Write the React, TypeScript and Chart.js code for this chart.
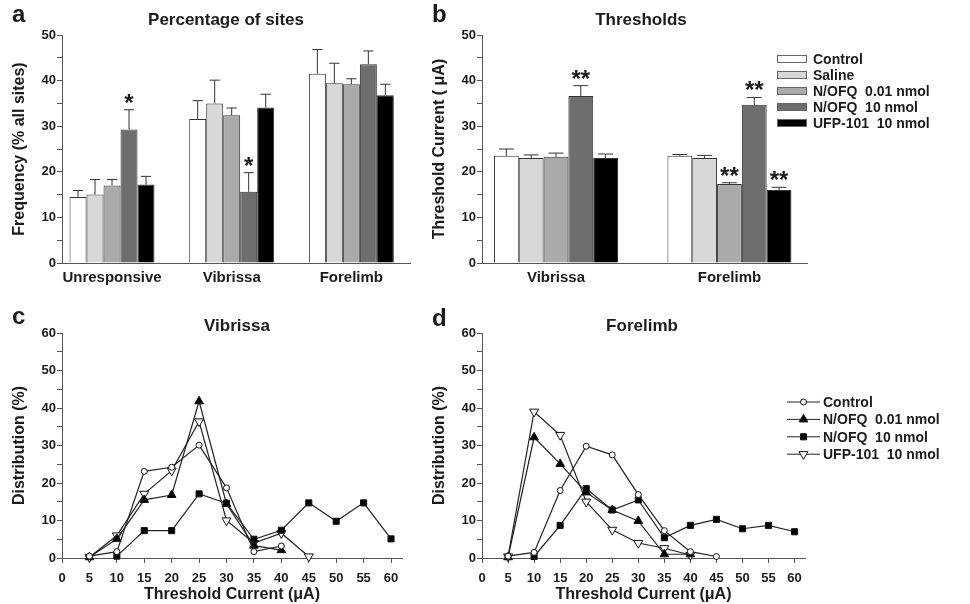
import React, { useEffect, useRef } from 'react';
import { Chart, registerables } from 'chart.js';

Chart.register(...registerables);

const FONT = 'Arial, "Liberation Sans", Helvetica, sans-serif';
const INK = '#1b1b1b';
const AXIS = '#555555';

// ---------- panel a : percentage of sites ----------
const siteCategories = ['Unresponsive', 'Vibrissa', 'Forelimb'];
const siteControl = [14.5, 31.6, 41.5];
const siteSaline = [15.0, 35.0, 39.4];
const siteNofqLow = [17.0, 32.4, 39.2];
const siteNofqHigh = [29.3, 15.6, 43.6];
const siteUfp = [17.2, 34.1, 36.8];
const siteControlSem = [1.4, 4.0, 5.3];
const siteSalineSem = [3.3, 5.1, 4.4];
const siteNofqLowSem = [1.3, 1.6, 1.2];
const siteNofqHighSem = [4.3, 4.2, 2.9];
const siteUfpSem = [1.8, 2.9, 2.4];
const siteNofqHighStars = ['*', '*', ''];

// ---------- panel b : thresholds ----------
const thresholdCategories = ['Vibrissa', 'Forelimb'];
const thrControl = [23.5, 23.5];
const thrSaline = [23.0, 23.0];
const thrNofqLow = [23.3, 17.3];
const thrNofqHigh = [36.6, 34.7];
const thrUfp = [23.0, 16.0];
const thrControlSem = [1.5, 0.3];
const thrSalineSem = [0.7, 0.6];
const thrNofqLowSem = [0.8, 0.3];
const thrNofqHighSem = [2.3, 1.6];
const thrUfpSem = [0.9, 0.6];
const thrNofqLowStars = ['', '**'];
const thrNofqHighStars = ['**', '**'];
const thrUfpStars = ['', '**'];

const barTreatments = ['Control', 'Saline', 'N/OFQ  0.01 nmol', 'N/OFQ  10 nmol', 'UFP-101  10 nmol'];
const barFills = ['#ffffff', '#d8d8d8', '#aaaaaa', '#6e6e6e', '#000000'];

// ---------- panels c, d : distributions ----------
const currents = [5, 10, 15, 20, 25, 30, 35, 40, 45, 50, 55, 60];
const currentTicks = [0, 5, 10, 15, 20, 25, 30, 35, 40, 45, 50, 55, 60];
const vibControl = [0.5, 1.7, 23.1, 24.2, 30.1, 18.7, 1.7, 3.2, null, null, null, null];
const vibNofqLow = [0.2, 5.1, 15.5, 16.8, 41.8, 14.4, 3.3, 2.1, null, null, null, null];
const vibNofqHigh = [null, 0.5, 7.3, 7.3, 17.1, 14.6, 5.0, 7.4, 14.7, 9.8, 14.7, 5.1];
const vibUfp = [0.2, 6.0, 17.1, 23.3, 36.4, 10.0, 4.0, 6.6, 0.4, null, null, null];
const foreControl = [0.5, 1.5, 18.0, 29.8, 27.5, 16.9, 7.3, 1.7, 0.4, null, null, null];
const foreNofqLow = [0.2, 32.2, 25.1, 17.5, 12.8, 9.9, 1.0, 1.0, null, null, null, null];
const foreNofqHigh = [null, 0.4, 8.7, 18.5, 12.8, 15.5, 5.4, 8.7, 10.3, 7.8, 8.7, 7.0];
const foreUfp = [0.4, 39.0, 32.8, 15.0, 7.5, 4.0, 2.6, 0.8, null, null, null, null];

const lineTreatments = ['Control', 'N/OFQ  0.01 nmol', 'N/OFQ  10 nmol', 'UFP-101  10 nmol'];

type TextItem = { text: string; x: number; y: number; size: number; align?: CanvasTextAlign };

function textPlugin(items: TextItem[]) {
  return {
    id: 'panelText',
    afterDraw(chart: any) {
      const ctx = chart.ctx;
      ctx.save();
      ctx.fillStyle = INK;
      ctx.textBaseline = 'alphabetic';
      for (const t of items) {
        ctx.font = `bold ${t.size}px ${FONT}`;
        ctx.textAlign = t.align || 'left';
        ctx.fillText(t.text, t.x, t.y);
      }
      ctx.restore();
    },
  };
}

const errorBarPlugin = {
  id: 'errorBars',
  afterDatasetsDraw(chart: any) {
    const ctx = chart.ctx;
    const yScale = chart.scales.y;
    ctx.save();
    chart.data.datasets.forEach((ds: any, di: number) => {
      const meta = chart.getDatasetMeta(di);
      meta.data.forEach((bar: any, i: number) => {
        const v = ds.data[i].y;
        const e = ds.sems[i];
        const top = yScale.getPixelForValue(v + e);
        const half = bar.width * 0.3;
        ctx.strokeStyle = '#333';
        ctx.lineWidth = 1;
        ctx.beginPath();
        ctx.moveTo(bar.x, bar.y);
        ctx.lineTo(bar.x, top);
        ctx.moveTo(bar.x - half, top);
        ctx.lineTo(bar.x + half, top);
        ctx.stroke();
        const s = ds.stars ? ds.stars[i] : '';
        if (s) {
          ctx.fillStyle = INK;
          ctx.font = `bold 24px ${FONT}`;
          ctx.textAlign = 'center';
          ctx.textBaseline = 'alphabetic';
          ctx.fillText(s, bar.x, top + 1);
        }
      });
    });
    ctx.restore();
  },
};

function barLegendPlugin(x: number, y0: number, step: number) {
  return {
    id: 'barLegend',
    afterDraw(chart: any) {
      const ctx = chart.ctx;
      ctx.save();
      chart.data.datasets.forEach((ds: any, i: number) => {
        const y = y0 + i * step;
        ctx.fillStyle = ds.backgroundColor;
        ctx.fillRect(x, y - 4, 30, 8);
        ctx.strokeStyle = '#666';
        ctx.lineWidth = 1;
        ctx.strokeRect(x + 0.5, y - 3.5, 29, 7);
        ctx.fillStyle = INK;
        ctx.font = `bold 14px ${FONT}`;
        ctx.textAlign = 'left';
        ctx.textBaseline = 'middle';
        ctx.fillText(ds.label, x + 36, y + 1);
      });
      ctx.restore();
    },
  };
}

function drawMarker(ctx: CanvasRenderingContext2D, ds: any, x: number, y: number) {
  const r = ds.pointRadius;
  ctx.beginPath();
  if (ds.pointStyle === 'circle') {
    ctx.arc(x, y, r, 0, Math.PI * 2);
  } else if (ds.pointStyle === 'rect') {
    const s = r * Math.SQRT1_2;
    ctx.rect(x - s, y - s, 2 * s, 2 * s);
  } else {
    const flip = ds.pointRotation === 180 ? -1 : 1;
    ctx.moveTo(x, y - flip * r);
    ctx.lineTo(x + 0.866 * r, y + flip * 0.5 * r);
    ctx.lineTo(x - 0.866 * r, y + flip * 0.5 * r);
    ctx.closePath();
  }
  ctx.fillStyle = ds.pointBackgroundColor;
  ctx.fill();
  ctx.strokeStyle = ds.pointBorderColor;
  ctx.lineWidth = 1;
  ctx.stroke();
}

function lineLegendPlugin(x: number, y0: number, step: number) {
  return {
    id: 'lineLegend',
    afterDraw(chart: any) {
      const ctx = chart.ctx;
      ctx.save();
      chart.data.datasets.forEach((ds: any, i: number) => {
        const y = y0 + i * step;
        ctx.strokeStyle = '#222';
        ctx.lineWidth = 1;
        ctx.beginPath();
        ctx.moveTo(x, y);
        ctx.lineTo(x + 33, y);
        ctx.stroke();
        drawMarker(ctx, ds, x + 16.5, y);
        ctx.fillStyle = INK;
        ctx.font = `bold 14px ${FONT}`;
        ctx.textAlign = 'left';
        ctx.textBaseline = 'middle';
        ctx.fillText(ds.label, x + 36, y + 1);
      });
      ctx.restore();
    },
  };
}

function barDataset(label: string, values: number[], sems: number[], stars: string[] | null, fill: string) {
  return {
    label,
    data: values.map((v, i) => ({ x: i, y: v })),
    sems,
    stars,
    backgroundColor: fill,
    borderColor: '#333',
    borderWidth: 1,
    barPercentage: 1,
  };
}

function yAxis(title: string, max: number, width: number) {
  return {
    min: 0,
    max,
    afterFit: (s: any) => { s.width = width; },
    ticks: {
      stepSize: 5,
      autoSkip: false,
      padding: 1,
      color: INK,
      font: { family: FONT, size: 13, weight: 'bold' },
      callback: (v: any) => (Number(v) % 10 === 0 ? String(v) : ''),
    },
    grid: { display: true, drawOnChartArea: false, drawTicks: true, tickLength: 5, color: AXIS },
    border: { display: true, color: AXIS, width: 1 },
    title: {
      display: true,
      text: title,
      color: INK,
      font: { family: FONT, size: 16, weight: 'bold' },
      padding: { top: 10, bottom: 0 },
    },
  };
}

function barConfig(p: {
  categories: string[];
  datasets: any[];
  xMin: number;
  xMax: number;
  catPct: number;
  yTitle: string;
  padRight: number;
  xHeight: number;
  plugins: any[];
}) {
  return {
    type: 'bar',
    data: { datasets: p.datasets },
    options: {
      responsive: false,
      animation: false,
      devicePixelRatio: 1,
      layout: { padding: { left: 0, top: 35, right: p.padRight, bottom: 0 } },
      datasets: { bar: { categoryPercentage: p.catPct, barPercentage: 1 } },
      plugins: { legend: { display: false }, tooltip: { enabled: false }, title: { display: false } },
      scales: {
        x: {
          type: 'linear',
          bounds: 'data',
          offset: false,
          min: p.xMin,
          max: p.xMax,
          afterBuildTicks: (s: any) => { s.ticks = p.categories.map((_, i) => ({ value: i })); },
          afterFit: (s: any) => { s.height = p.xHeight; },
          ticks: {
            autoSkip: false,
            maxRotation: 0,
            padding: -2,
            color: INK,
            font: { family: FONT, size: 15, weight: 'bold' },
            callback: (v: any) => p.categories[Math.round(Number(v))] ?? '',
          },
          grid: { display: false, offset: false },
          border: { display: true, color: AXIS, width: 1 },
        },
        y: yAxis(p.yTitle, 50, 62),
      },
    },
    plugins: [errorBarPlugin, ...p.plugins],
  };
}

function lineDataset(label: string, values: (number | null)[], style: string, radius: number, fill: string, rotation = 0) {
  const pts: { x: number; y: number }[] = [];
  values.forEach((v, i) => { if (v !== null) pts.push({ x: currents[i], y: v }); });
  return {
    label,
    data: pts,
    borderColor: '#222',
    borderWidth: 1.2,
    tension: 0,
    fill: false,
    clip: false,
    pointStyle: style,
    pointRadius: radius,
    pointRotation: rotation,
    pointBackgroundColor: fill,
    pointBorderColor: '#111',
    pointBorderWidth: 1,
  };
}

function lineConfig(p: { series: (number | null)[][]; padRight: number; plugins: any[] }) {
  const datasets = [
    lineDataset(lineTreatments[0], p.series[0], 'circle', 3, '#ffffff'),
    lineDataset(lineTreatments[1], p.series[1], 'triangle', 5, '#000000'),
    lineDataset(lineTreatments[2], p.series[2], 'rect', 4.3, '#000000'),
    lineDataset(lineTreatments[3], p.series[3], 'triangle', 5.2, '#ffffff', 180),
  ];
  return {
    type: 'line',
    data: { datasets },
    options: {
      responsive: false,
      animation: false,
      devicePixelRatio: 1,
      layout: { padding: { left: 0, top: 43, right: p.padRight, bottom: 0 } },
      plugins: { legend: { display: false }, tooltip: { enabled: false }, title: { display: false } },
      scales: {
        x: {
          type: 'linear',
          bounds: 'data',
          min: 0,
          max: 62,
          afterBuildTicks: (s: any) => { s.ticks = currentTicks.map((v) => ({ value: v })); },
          afterFit: (s: any) => { s.height = 46; },
          ticks: {
            autoSkip: false,
            maxRotation: 0,
            padding: 8,
            color: INK,
            font: { family: FONT, size: 13, weight: 'bold' },
          },
          grid: { display: true, drawOnChartArea: false, drawTicks: true, tickLength: 5, color: AXIS },
          border: { display: true, color: AXIS, width: 1 },
          title: {
            display: true,
            text: 'Threshold Current (\u03bcA)',
            color: INK,
            font: { family: FONT, size: 16, weight: 'bold' },
            padding: { top: 0, bottom: 0 },
          },
        },
        y: { ...yAxis('Distribution (%)', 60, 62), max: 60 },
      },
    },
    plugins: p.plugins,
  };
}

function ChartBox({ left, top, width, height, make }: { left: number; top: number; width: number; height: number; make: () => any }) {
  const ref = useRef<HTMLCanvasElement>(null);
  useEffect(() => {
    const chart = new Chart(ref.current as HTMLCanvasElement, make());
    return () => chart.destroy();
  }, []);
  return (
    <div style={{ position: 'absolute', left, top, width, height }}>
      <canvas ref={ref} width={width} height={height} style={{ display: 'block', width, height }} />
    </div>
  );
}

export default function App() {
  const makeA = () =>
    barConfig({
      categories: siteCategories,
      datasets: [
        barDataset(barTreatments[0], siteControl, siteControlSem, null, barFills[0]),
        barDataset(barTreatments[1], siteSaline, siteSalineSem, null, barFills[1]),
        barDataset(barTreatments[2], siteNofqLow, siteNofqLowSem, null, barFills[2]),
        barDataset(barTreatments[3], siteNofqHigh, siteNofqHighSem, siteNofqHighStars, barFills[3]),
        barDataset(barTreatments[4], siteUfp, siteUfpSem, null, barFills[4]),
      ],
      xMin: -0.418,
      xMax: 2.49,
      catPct: 0.71,
      yTitle: 'Frequency (% all sites)',
      padRight: 10,
      xHeight: 27,
      plugins: [
        textPlugin([
          { text: 'a', x: 12, y: 22, size: 24 },
          { text: 'Percentage of sites', x: 226, y: 25, size: 17, align: 'center' },
        ]),
      ],
    });

  const makeB = () =>
    barConfig({
      categories: thresholdCategories,
      datasets: [
        barDataset(barTreatments[0], thrControl, thrControlSem, null, barFills[0]),
        barDataset(barTreatments[1], thrSaline, thrSalineSem, null, barFills[1]),
        barDataset(barTreatments[2], thrNofqLow, thrNofqLowSem, thrNofqLowStars, barFills[2]),
        barDataset(barTreatments[3], thrNofqHigh, thrNofqHighSem, thrNofqHighStars, barFills[3]),
        barDataset(barTreatments[4], thrUfp, thrUfpSem, thrUfpStars, barFills[4]),
      ],
      xMin: -0.4265,
      xMax: 1.447,
      catPct: 0.715,
      yTitle: 'Threshold Current ( \u03bcA)',
      padRight: 163,
      xHeight: 27,
      plugins: [
        textPlugin([
          { text: 'b', x: 12, y: 22, size: 24 },
          { text: 'Thresholds', x: 221, y: 25, size: 17, align: 'center' },
        ]),
        barLegendPlugin(357, 59, 16),
      ],
    });

  const makeC = () =>
    lineConfig({
      series: [vibControl, vibNofqLow, vibNofqHigh, vibUfp],
      padRight: 18,
      plugins: [
        textPlugin([
          { text: 'c', x: 12, y: 34, size: 24 },
          { text: 'Vibrissa', x: 237, y: 41, size: 17, align: 'center' },
        ]),
      ],
    });

  const makeD = () =>
    lineConfig({
      series: [foreControl, foreNofqLow, foreNofqHigh, foreUfp],
      padRight: 165,
      plugins: [
        textPlugin([
          { text: 'd', x: 12, y: 36, size: 24 },
          { text: 'Forelimb', x: 222, y: 41, size: 17, align: 'center' },
        ]),
        lineLegendPlugin(367, 112, 17.4),
      ],
    });

  return (
    <div style={{ position: 'fixed', left: 0, top: 0, width: 970, height: 604, background: '#ffffff', overflow: 'hidden' }}>
      <ChartBox left={0} top={0} width={420} height={290} make={makeA} />
      <ChartBox left={420} top={0} width={550} height={290} make={makeB} />
      <ChartBox left={0} top={290} width={420} height={314} make={makeC} />
      <ChartBox left={420} top={290} width={550} height={314} make={makeD} />
    </div>
  );
}
